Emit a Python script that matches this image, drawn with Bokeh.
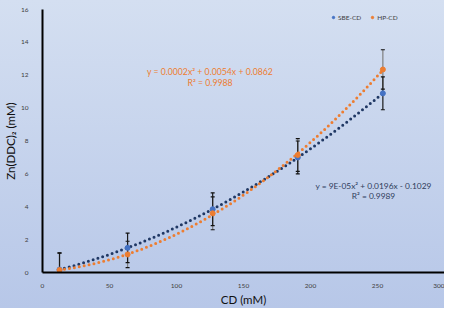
import numpy as np
from bokeh.plotting import figure
from bokeh.models import ColumnDataSource, Whisker, TeeHead, Label, Legend, LegendItem, FixedTicker
from bokeh.embed import file_html
from bokeh.resources import INLINE

# ---- data ----
cd_mM = [12.7, 63.5, 127.0, 190.5, 254.0]
sbe_cd = [0.18, 1.5, 3.85, 7.0, 10.9]
sbe_err = [1.0, 0.9, 1.0, 1.0, 1.0]
hp_cd = [0.15, 1.1, 3.6, 7.15, 12.35]
hp_err = [1.05, 0.8, 1.0, 1.0, 1.2]
x_ticks = [0, 50, 100, 150, 200, 250, 300]
y_ticks = [0, 2, 4, 6, 8, 10, 12, 14, 16]
eq_hp = ["y = 0.0002x\u00b2 + 0.0054x + 0.0862", "R\u00b2 = 0.9988"]
eq_sbe = ["y = 9E-05x\u00b2 + 0.0196x - 0.1029", "R\u00b2 = 0.9989"]

BLUE = "#4472c4"
NAVY = "#203864"
ORANGE = "#ed7d31"
FONT = "Lato"

p = figure(width=444, height=308, output_backend="svg", toolbar_location=None,
           x_range=(0, 300), y_range=(0, 16),
           min_border_left=37, min_border_right=0, min_border_top=9, min_border_bottom=27)
p.styles = {"background": "linear-gradient(to bottom, #d4dff1, #b7c7e8)"}
p.border_fill_color = None
p.background_fill_color = None
p.outline_line_color = None
p.grid.visible = False

for ax in (p.xaxis[0], p.yaxis[0]):
    ax.axis_line_color = "black"
    ax.axis_line_width = 2
    ax.major_tick_line_color = None
    ax.minor_tick_line_color = None
    ax.major_label_text_font = FONT
    ax.major_label_text_font_size = "6.5px"
    ax.major_label_text_color = "#404040"
    ax.axis_label_text_font = FONT
    ax.axis_label_text_font_size = "11.5px"
    ax.axis_label_text_font_style = "normal"
    ax.axis_label_text_color = "#111111"
p.xaxis.ticker = FixedTicker(ticks=x_ticks)
p.yaxis.ticker = FixedTicker(ticks=y_ticks)
p.xaxis.major_label_standoff = 5
p.yaxis.major_label_standoff = 8
p.xaxis.axis_label = "CD (mM)"
p.yaxis.axis_label = "Zn(DDC)\u2082 (mM)"
p.xaxis.axis_label_standoff = 2
p.yaxis.axis_label_standoff = 1

# trendlines (quadratic fits of the data)
xs = np.linspace(cd_mM[0], cd_mM[-1], 200)
for ys, col in ((sbe_cd, NAVY), (hp_cd, ORANGE)):
    c = np.polyfit(cd_mM, ys, 2)
    p.line(xs, np.polyval(c, xs), line_color=col, line_width=3,
           line_dash="0 5", line_cap="round")

src = ColumnDataSource(dict(x=cd_mM, sbe=sbe_cd, hp=hp_cd,
                            sbe_lo=[a - e for a, e in zip(sbe_cd, sbe_err)],
                            sbe_hi=[a + e for a, e in zip(sbe_cd, sbe_err)],
                            hp_lo=[a - e for a, e in zip(hp_cd, hp_err)],
                            hp_hi=[a + e for a, e in zip(hp_cd, hp_err)]))

for lo, hi, col in (("hp_lo", "hp_hi", "#7f7f7f"), ("sbe_lo", "sbe_hi", "#1a1a1a")):
    w = Whisker(source=src, base="x", lower=lo, upper=hi, line_color=col, line_width=1.2,
                upper_head=TeeHead(size=4, line_color="#111111", line_width=1.2),
                lower_head=TeeHead(size=4, line_color="#111111", line_width=1.2))
    p.add_layout(w)

r1 = p.scatter("x", "sbe", source=src, size=5, color=BLUE)
r2 = p.scatter("x", "hp", source=src, size=5, color=ORANGE)

legend = Legend(items=[LegendItem(label="SBE-CD", renderers=[r1]),
                       LegendItem(label="HP-CD", renderers=[r2])],
                orientation="horizontal", location=(288, 251),
                background_fill_alpha=0, border_line_color=None,
                label_text_font=FONT, label_text_font_size="6.5px", label_text_color="#404040",
                glyph_width=6, glyph_height=6, label_standoff=2, spacing=8,
                padding=0, margin=0, label_height=8)
p.add_layout(legend)

for i, t in enumerate(eq_hp):
    p.add_layout(Label(x=125, y=12.2 - 0.62 * i, text=t, text_align="center", text_baseline="middle",
                       text_font=FONT, text_font_size="8.7px", text_color=ORANGE))
for i, t in enumerate(eq_sbe):
    p.add_layout(Label(x=247, y=5.25 - 0.6 * i, text=t, text_align="center", text_baseline="middle",
                       text_font=FONT, text_font_size="8.4px", text_color="#2f3d5c"))

open("out.html", "w").write(file_html(p, INLINE))
